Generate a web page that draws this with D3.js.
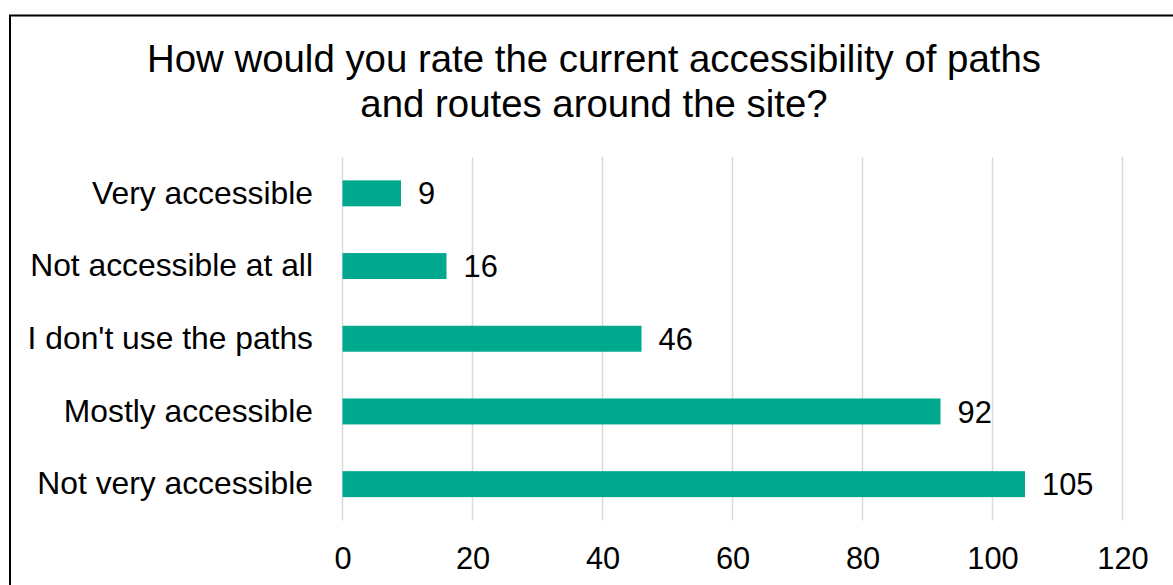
<!DOCTYPE html>
<html>
<head>
<meta charset="utf-8">
<script src="https://cdn.jsdelivr.net/npm/d3@7"></script>
<style>
  html, body { margin: 0; padding: 0; background: #fff; }
  svg { display: block; font-family: "Liberation Sans", Arial, sans-serif; }
</style>
</head>
<body>
<svg id="chart" width="1173" height="585"></svg>
<script>
const titleLines = ["How would you rate the current accessibility of paths", "and routes around the site?"];
const categories = ["Very accessible", "Not accessible at all", "I don't use the paths", "Mostly accessible", "Not very accessible"];
const values = [9, 16, 46, 92, 105];
const tickValues = [0, 20, 40, 60, 80, 100, 120];

const svg = d3.select("#chart");
const W = 1173, H = 585;
const plot = { left: 342.5, right: 1122.5, top: 157, bottom: 520.5 };
const barColor = "#00A88E";

svg.append("rect").attr("width", W).attr("height", H).attr("fill", "#fff");

// outer border (extends beyond right and bottom edges)
svg.append("rect")
  .attr("x", 10).attr("y", 15.5)
  .attr("width", 1300).attr("height", 800)
  .attr("fill", "none").attr("stroke", "#000").attr("stroke-width", 2);

// title
svg.append("g").selectAll("text").data(titleLines).join("text")
  .attr("x", 594).attr("y", (d, i) => 72 + i * 45)
  .attr("text-anchor", "middle")
  .attr("font-size", 38.4).attr("fill", "#000")
  .text(d => d);

const x = d3.scaleLinear().domain([0, 120]).range([plot.left, plot.right]);
const y = d3.scaleBand().domain(categories).range([plot.top, plot.bottom])
  .paddingInner(0.643).paddingOuter(0.3215);

// gridlines
svg.append("g").selectAll("line").data(tickValues).join("line")
  .attr("x1", d => x(d)).attr("x2", d => x(d))
  .attr("y1", plot.top).attr("y2", plot.bottom)
  .attr("stroke", "#d9d9d9").attr("stroke-width", 1.5);

// bars
svg.append("g").selectAll("rect").data(values).join("rect")
  .attr("x", x(0))
  .attr("y", (d, i) => y(categories[i]))
  .attr("width", d => x(d) - x(0))
  .attr("height", y.bandwidth())
  .attr("fill", barColor);

// data labels
svg.append("g").selectAll("text").data(values).join("text")
  .attr("x", d => x(d) + 17)
  .attr("y", (d, i) => y(categories[i]) + y.bandwidth() / 2)
  .attr("dy", "0.36em")
  .attr("font-size", 30.8).attr("fill", "#000")
  .text(d => d);

// category axis labels
const yAxis = d3.axisLeft(y).tickSize(0).tickPadding(29.5);
const gy = svg.append("g").attr("transform", `translate(${plot.left},0)`).call(yAxis);
gy.select(".domain").remove();
gy.selectAll("text").attr("font-size", 31.8).attr("fill", "#000")
  .attr("font-family", '"Liberation Sans", Arial, sans-serif');

// x axis
const xAxis = d3.axisBottom(x).tickValues(tickValues).tickSize(0).tickPadding(0);
const gx = svg.append("g").attr("transform", `translate(0,${plot.bottom})`).call(xAxis);
gx.select(".domain").remove();
gx.selectAll("text").attr("font-size", 30.8).attr("fill", "#000")
  .attr("dy", null).attr("y", 48.5)
  .attr("font-family", '"Liberation Sans", Arial, sans-serif');
</script>
</body>
</html>
